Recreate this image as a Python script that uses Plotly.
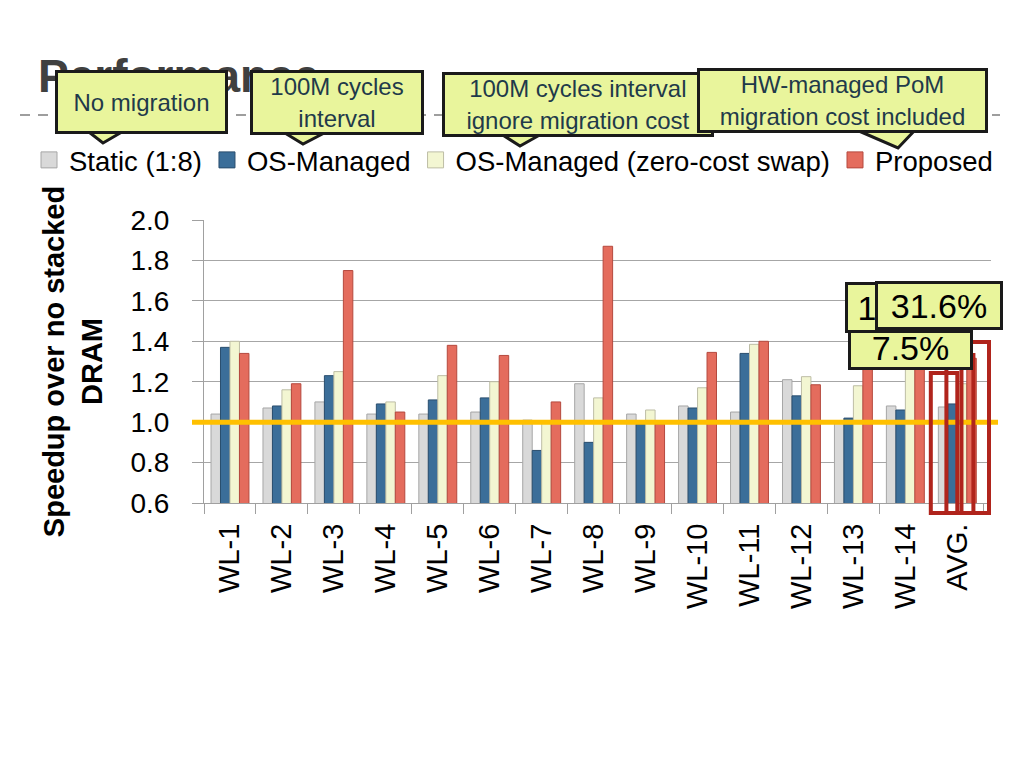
import plotly.graph_objects as go

categories = ["WL-1", "WL-2", "WL-3", "WL-4", "WL-5", "WL-6", "WL-7", "WL-8",
              "WL-9", "WL-10", "WL-11", "WL-12", "WL-13", "WL-14", "AVG."]
static = [1.04, 1.07, 1.10, 1.04, 1.04, 1.05, 1.01, 1.19, 1.04, 1.08, 1.05, 1.21, 1.00, 1.08, 1.075]
os_managed = [1.37, 1.08, 1.23, 1.09, 1.11, 1.12, 0.86, 0.90, 0.99, 1.07, 1.34, 1.13, 1.02, 1.06, 1.09]
zero_cost = [1.40, 1.16, 1.25, 1.10, 1.23, 1.20, 1.00, 1.12, 1.06, 1.17, 1.385, 1.225, 1.18, 1.30, 1.19]
proposed = [1.34, 1.19, 1.75, 1.05, 1.38, 1.33, 1.10, 1.87, 0.99, 1.345, 1.40, 1.185, 1.32, 1.35, 1.316]

series = [
    ("Static (1:8)", static, "#D9D9D9", "#A6A6A6"),
    ("OS-Managed", os_managed, "#3B6E99", "#2A4E6E"),
    ("OS-Managed (zero-cost swap)", zero_cost, "#F3F6D2", "#BDBDA5"),
    ("Proposed", proposed, "#E46C5D", "#B5493E"),
]

y_ticks = [0.6, 0.8, 1.0, 1.2, 1.4, 1.6, 1.8, 2.0]

# page has an 8px body margin; figure pixel = page pixel - 8
OFF = 8
W, H = 1008, 752
L, R, T, B = 204 - OFF, W - (991 - OFF), 220 - OFF, H - (503 - OFF)
PW = W - L - R
PH = H - T - B


def px(x):
    return (x - OFF - L) / PW


def py(y):
    return (H - B - (y - OFF)) / PH


FONT = "Liberation Sans"
FILL = "#E9F59C"
EDGE = "#1A1A1A"

fig = go.Figure()
for name, vals, col, lc in series:
    fig.add_trace(go.Bar(x=categories, y=vals, name=name, showlegend=False,
                         marker=dict(color=col, line=dict(color=lc, width=1))))
for name, vals, col, lc in series:
    fig.add_trace(go.Scatter(x=[None], y=[None], mode="markers", name=name,
                             marker=dict(symbol="square", size=16, color=col,
                                         line=dict(color=lc, width=1))))

shapes = []
# dashed divider under title
shapes.append(dict(type="line", xref="paper", yref="paper", x0=px(20), x1=px(1000),
                   y0=py(115), y1=py(115), line=dict(color="#7F7F7F", width=1.5, dash="10px,8px")))
# baseline at 1.0
shapes.append(dict(type="line", xref="paper", yref="y", x0=px(192), x1=px(998), y0=1.0, y1=1.0,
                   line=dict(color="#FFC000", width=5), layer="above"))
# highlight boxes on AVG.
for x0, x1, top in [(13.49, 14.0, 373), (13.79, 14.31, 355), (14.08, 14.61, 342)]:
    shapes.append(dict(type="rect", xref="x", yref="paper", x0=x0, x1=x1, y0=py(513), y1=py(top),
                       line=dict(color="#B0241C", width=4), fillcolor="rgba(0,0,0,0)", layer="above"))
# callout tails
for lx, tipx, tipy, rx, by in [(85, 103, 143, 127, 134), (280, 303, 144, 330, 135),
                               (498, 520, 146, 545, 137), (852, 898, 148, 917, 133)]:
    shapes.append(dict(type="path", xref="paper", yref="paper",
                       path=f"M{px(lx)},{py(by-5)} L{px(tipx)},{py(tipy)} L{px(rx)},{py(by-5)} Z",
                       fillcolor=FILL, line=dict(width=0), layer="above"))
    shapes.append(dict(type="path", xref="paper", yref="paper",
                       path=f"M{px(lx)},{py(by-5)} L{px(tipx)},{py(tipy)} L{px(rx)},{py(by-5)}",
                       line=dict(color=EDGE, width=3), layer="above"))


def callout(text, x0, y0, x1, y1, size, color, align="center"):
    bw = 3
    return dict(text=text, xref="paper", yref="paper", x=px(x0), y=py(y0),
                xanchor="left", yanchor="top", width=x1 - x0 - 2 * bw, height=y1 - y0 - 2 * bw,
                showarrow=False, bgcolor=FILL, bordercolor=EDGE, borderwidth=bw, borderpad=0,
                font=dict(family=FONT, size=size, color=color), align=align)


TXT = "#1F3A4A"
annotations = [
    dict(text="<b>Performance</b>", xref="paper", yref="paper", x=px(36), y=py(48),
         xanchor="left", yanchor="top", showarrow=False,
         font=dict(family=FONT, size=46, color="#404040")),
    callout("No migration", 55, 70, 228, 134, 24, TXT),
    callout("100M cycles<br>interval", 250, 70, 424, 135, 24, TXT),
    callout("100M cycles interval<br>ignore migration cost", 442, 72, 714, 137, 24, TXT),
    callout("HW-managed PoM<br>migration cost included", 697, 68, 988, 133, 24, TXT),
    callout("7.5%", 848, 326, 973, 370, 34, "#000000"),
    callout("\u00a01", 845, 282, 970, 333, 34, "#000000", align="left"),
    callout("31.6%", 875, 281, 1003, 330, 34, "#000000"),
]

fig.update_layout(
    width=W, height=H,
    margin=dict(l=L, r=R, t=T, b=B),
    paper_bgcolor="white", plot_bgcolor="white",
    font=dict(family=FONT, color="#000000"),
    barmode="group", bargap=0.27, bargroupgap=0,
    showlegend=True,
    legend=dict(orientation="h", x=px(29), xanchor="left", y=py(160), yanchor="middle",
                font=dict(family=FONT, size=27.5, color="#000000"), bgcolor="rgba(0,0,0,0)",
                itemsizing="trace"),
    shapes=shapes,
    annotations=annotations,
    xaxis=dict(type="category", categoryorder="array", categoryarray=categories,
               tickangle=-90, tickfont=dict(family=FONT, size=29, color="#000000"),
               showline=True, linecolor="#A0A0A0", linewidth=1,
               ticks="outside", ticklen=10, tickcolor="#A0A0A0", tickson="boundaries",
               showgrid=False, ticklabelstandoff=8),
    yaxis=dict(range=[0.6, 2.0], tickvals=y_ticks, tickformat=".1f",
               tickfont=dict(family=FONT, size=28, color="#000000"),
               showline=True, linecolor="#A0A0A0", linewidth=1,
               ticks="outside", ticklen=11, tickcolor="#A0A0A0",
               showgrid=True, gridcolor="#A6A6A6", gridwidth=1, zeroline=False,
               ticklabelstandoff=17,
               title=dict(text="<b>Speedup over no stacked<br>DRAM</b>",
                          font=dict(family=FONT, size=29, color="#000000"), standoff=19)),
)

fig.write_html("out.html")
